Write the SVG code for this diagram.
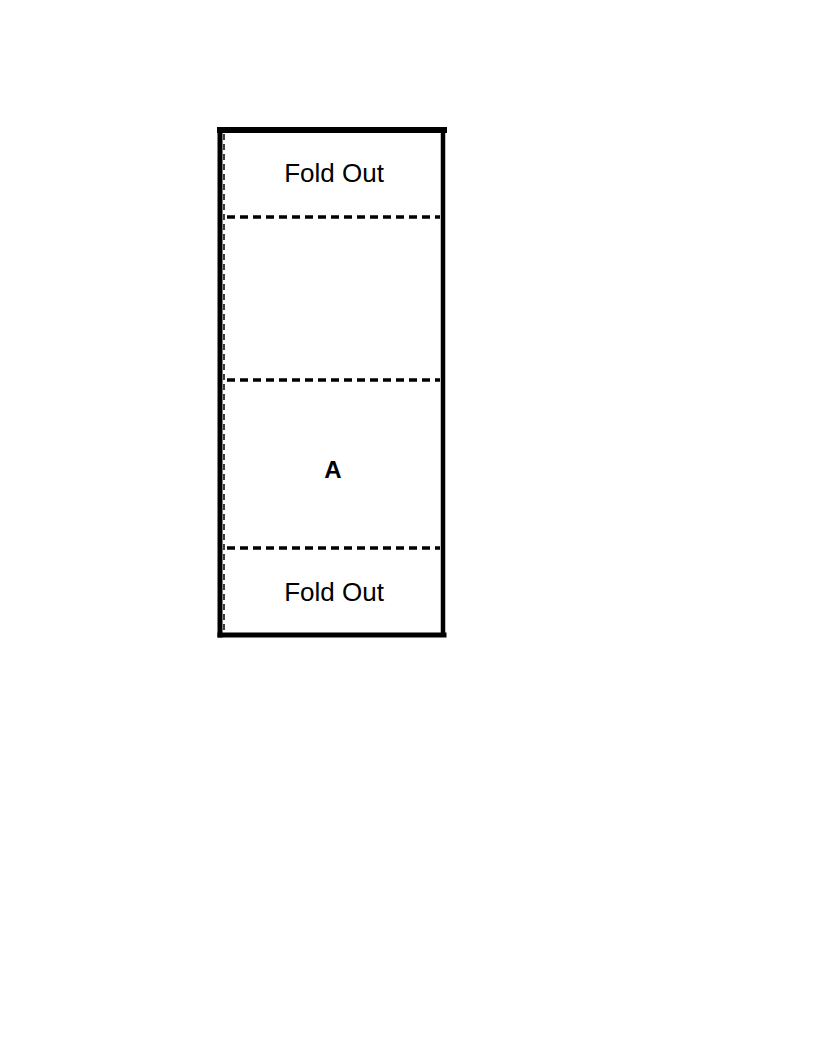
<svg xmlns="http://www.w3.org/2000/svg" width="816" height="1056" viewBox="0 0 816 1056">
<style>
.solid{stroke:#000;stroke-linecap:square;fill:none}
.fold{stroke:#000;stroke-width:3.5;stroke-dasharray:8,5;fill:none}
.thin{stroke:#000;stroke-width:1.5;stroke-dasharray:6,4;fill:none}
.lbl{font-family:"Liberation Sans",Arial,sans-serif;font-size:26px;fill:#000;text-anchor:middle}
.bold{font-weight:bold;font-size:24px}
</style>
<rect width="816" height="1056" fill="#fff"/>
<g id="panel">
<line class="solid" x1="220" y1="130" x2="444" y2="130" stroke-width="6"/>
<line class="solid" x1="220" y1="130" x2="220" y2="635" stroke-width="5"/>
<line class="solid" x1="443" y1="130" x2="443" y2="633" stroke-width="4.5"/>
<line class="solid" x1="220" y1="635" x2="444" y2="635" stroke-width="5"/>
<line class="thin" x1="224" y1="134" x2="224" y2="632"/>
</g>
<g id="folds">
<line class="fold" x1="227" y1="217" x2="440" y2="217"/>
<line class="fold" x1="227" y1="380" x2="440" y2="380"/>
<line class="fold" x1="227" y1="548" x2="440" y2="548"/>
</g>
<g id="top-label"><text class="lbl" x="334" y="182">Fold Out</text></g>
<g id="a-label"><text class="lbl bold" x="333" y="478">A</text></g>
<g id="bottom-label"><text class="lbl" x="334" y="601">Fold Out</text></g>
</svg>
